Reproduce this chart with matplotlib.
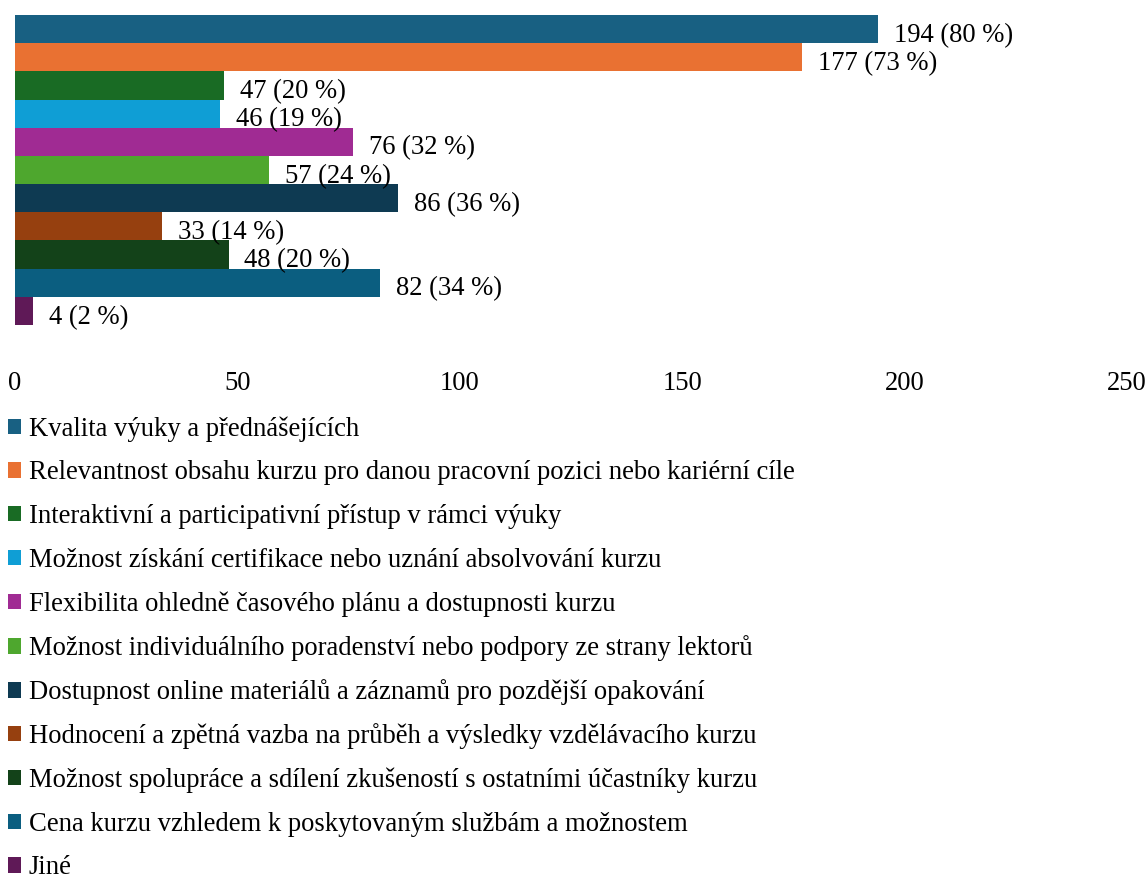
import matplotlib
matplotlib.use("Agg")
import matplotlib.pyplot as plt
from matplotlib.patches import Patch

categories = [
    "Kvalita výuky a přednášejících",
    "Relevantnost obsahu kurzu pro danou pracovní pozici nebo kariérní cíle",
    "Interaktivní a participativní přístup v rámci výuky",
    "Možnost získání certifikace nebo uznání absolvování kurzu",
    "Flexibilita ohledně časového plánu a dostupnosti kurzu",
    "Možnost individuálního poradenství nebo podpory ze strany lektorů",
    "Dostupnost online materiálů a záznamů pro pozdější opakování",
    "Hodnocení a zpětná vazba na průběh a výsledky vzdělávacího kurzu",
    "Možnost spolupráce a sdílení zkušeností s ostatními účastníky kurzu",
    "Cena kurzu vzhledem k poskytovaným službám a možnostem",
    "Jiné",
]
counts = [194, 177, 47, 46, 76, 57, 86, 33, 48, 82, 4]
percents = [80, 73, 20, 19, 32, 24, 36, 14, 20, 34, 2]
colors = ["#186082", "#E97132", "#196B24", "#0F9ED5", "#A02B93", "#4EA72E",
          "#0E3A52", "#96400F", "#134219", "#0B5E80", "#5F1957"]
xticks = [0, 50, 100, 150, 200, 250]

plt.rcParams['font.family'] = ['Liberation Serif', 'DejaVu Serif']

W, H = 1148, 884
FS = 19.2
fig = plt.figure(figsize=(W / 100, H / 100), dpi=100)
left, right = 15 / W, 1127 / W
top_px, bot_px = 15, 325
ax = fig.add_axes([left, 1 - bot_px / H, right - left, (bot_px - top_px) / H])

ypos = list(range(len(categories)))
bars = ax.barh(ypos, counts, height=1.0, color=colors)
labels = [f"{c} ({p} %)" for c, p in zip(counts, percents)]
for b, lab in zip(bars, labels):
    ax.annotate(lab, xy=(b.get_width(), b.get_y() + b.get_height() / 2),
                xytext=(11.5, -4.5), textcoords="offset points",
                ha="left", va="center", fontsize=FS)

ax.set_xlim(0, 250)
ax.set_ylim(len(categories) - 0.5, -0.5)
ax.set_xticks(xticks)
ax.set_xticklabels([str(t) for t in xticks], fontsize=FS)
ax.tick_params(axis="x", length=0, pad=33)
ax.set_yticks([])
for s in ax.spines.values():
    s.set_visible(False)

# legend: one evenly spaced row per category
row0, step = 429, 43.9
for i, (cat, col) in enumerate(zip(categories, colors)):
    yc = row0 + i * step
    fig.legend([Patch(facecolor=col, edgecolor='none')], [cat],
               loc="center left", bbox_to_anchor=(0.0, 1 - yc / H),
               frameon=False, fontsize=FS, handlelength=0.5,
               handleheight=0.5, handletextpad=0.28,
               borderaxespad=0, borderpad=0.3)

fig.savefig("out.png", dpi=100)
